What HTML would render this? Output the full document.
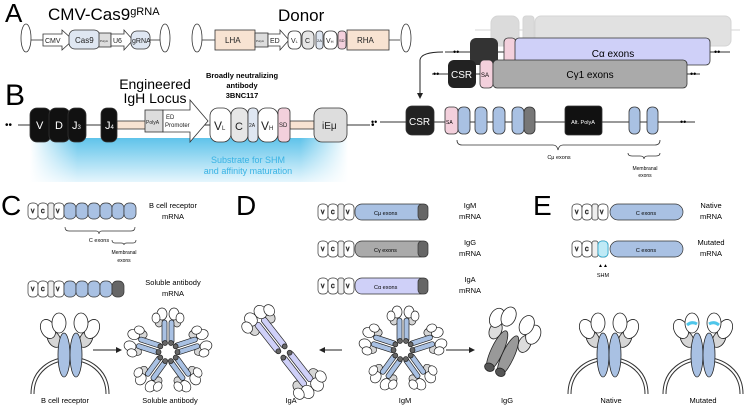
<!DOCTYPE html>
<html><head><meta charset="utf-8"><style>
html,body{margin:0;padding:0;background:#fff}
svg{display:block}
text{font-family:"Liberation Sans",sans-serif}
</style></head><body>
<svg width="750" height="406" viewBox="0 0 750 406" xmlns="http://www.w3.org/2000/svg">
<defs>
<linearGradient id="bg" x1="0" y1="0" x2="0" y2="1"><stop offset="0" stop-color="#5fc3ea"/><stop offset="1" stop-color="#e6f6fd"/></linearGradient>
<linearGradient id="bgx" x1="0" y1="0" x2="1" y2="0"><stop offset="0" stop-color="#fff" stop-opacity="1"/><stop offset="0.15" stop-color="#fff" stop-opacity="0"/><stop offset="0.85" stop-color="#fff" stop-opacity="0"/><stop offset="1" stop-color="#fff" stop-opacity="1"/></linearGradient>
<marker id="ah" markerWidth="6" markerHeight="6" refX="5" refY="3" orient="auto"><path d="M0,0 L6,3 L0,6 z" fill="#222"/></marker>
<g id="ab" stroke="#222" stroke-width="0.8">
 <ellipse cx="-16" cy="-16" rx="6" ry="9" fill="#d6d6d6" transform="rotate(-30 -16 -16)"/>
 <ellipse cx="16" cy="-16" rx="6" ry="9" fill="#d6d6d6" transform="rotate(30 16 -16)"/>
 <ellipse cx="-6" cy="0" rx="6" ry="22" fill="#a9c1e3"/>
 <ellipse cx="6" cy="0" rx="6" ry="22" fill="#a9c1e3"/>
 <ellipse cx="-22" cy="-26" rx="7" ry="10" fill="#fff" transform="rotate(-25 -22 -26)"/>
 <ellipse cx="-11" cy="-32" rx="7" ry="10" fill="#fff"/>
 <ellipse cx="22" cy="-26" rx="7" ry="10" fill="#fff" transform="rotate(25 22 -26)"/>
 <ellipse cx="11" cy="-32" rx="7" ry="10" fill="#fff"/>
</g>
<g id="arm" stroke="#222" stroke-width="0.7">
 <ellipse cx="-9" cy="-30" rx="4" ry="5" fill="#d6d6d6"/>
 <ellipse cx="9" cy="-30" rx="4" ry="5" fill="#d6d6d6"/>
 <rect x="-6" y="-32" width="5" height="24" rx="2.5" fill="#a9c1e3"/>
 <rect x="1" y="-32" width="5" height="24" rx="2.5" fill="#a9c1e3"/>
 <ellipse cx="-6" cy="-38" rx="5" ry="6" fill="#fff"/>
 <ellipse cx="6" cy="-38" rx="5" ry="6" fill="#fff"/>
 <ellipse cx="-12" cy="-34" rx="4" ry="5" fill="#fff"/>
 <ellipse cx="12" cy="-34" rx="4" ry="5" fill="#fff"/>
 <circle cx="-3" cy="-9" r="2.5" fill="#666"/><circle cx="3" cy="-9" r="2.5" fill="#666"/>
</g>
<g id="aarm" stroke="#222" stroke-width="0.7">
 <ellipse cx="-10" cy="-36" rx="5" ry="6" fill="#d6d6d6"/>
 <ellipse cx="10" cy="-36" rx="5" ry="6" fill="#d6d6d6"/>
 <rect x="-7" y="-40" width="6" height="37" rx="3" fill="#cfd0f8"/>
 <rect x="1" y="-40" width="6" height="37" rx="3" fill="#cfd0f8"/>
 <ellipse cx="-6" cy="-46" rx="6" ry="7" fill="#fff"/>
 <ellipse cx="6" cy="-46" rx="6" ry="7" fill="#fff"/>
 <ellipse cx="-14" cy="-42" rx="5" ry="6" fill="#fff"/>
 <ellipse cx="14" cy="-42" rx="5" ry="6" fill="#fff"/>
 <circle cx="-4" cy="-4" r="2.5" fill="#666"/><circle cx="4" cy="-4" r="2.5" fill="#666"/>
</g>
<g id="pent"><use href="#arm"/><use href="#arm" transform="rotate(72)"/><use href="#arm" transform="rotate(144)"/><use href="#arm" transform="rotate(216)"/><use href="#arm" transform="rotate(288)"/></g>
<g id="vbox" stroke="#333" stroke-width="0.7" font-size="5">
 <rect x="0" y="0" width="10" height="16" rx="4" fill="#fff"/><text x="3" y="10">V</text>
 <rect x="10" y="0" width="10" height="16" rx="4" fill="#fff"/><text x="13" y="10">C</text>
 <rect x="20" y="0" width="6" height="16" rx="2" fill="#eee"/>
 <rect x="26" y="0" width="10" height="16" rx="4" fill="#fff"/><text x="28" y="10">V</text>
</g>
</defs>

<!-- Panel A -->
<text x="5" y="22" font-size="26">A</text>
<text x="48" y="20" font-size="17">CMV-Cas9<tspan font-size="11" dy="-5">gRNA</tspan></text>
<text x="278" y="21" font-size="17">Donor</text>
<g stroke="#333" stroke-width="0.8">
<line x1="30" y1="40" x2="43" y2="40"/><ellipse cx="26" cy="38" rx="5" ry="14" fill="#fff"/>
<path d="M43,34 H62 V30 L73,40 L62,50 V46 H43 Z" fill="#fff"/>
<rect x="69" y="30" width="31" height="19" rx="6" fill="#dfe7f2"/>
<rect x="99" y="33" width="12" height="14" fill="#ddd"/>
<path d="M111,34 H124 V30 L133,40 L124,50 V46 H111 Z" fill="#fff"/>
<rect x="131" y="31" width="19" height="18" rx="6" fill="#dfe7f2"/>
<line x1="150" y1="40" x2="160" y2="40"/><ellipse cx="165" cy="38" rx="5" ry="14" fill="#fff"/>
<ellipse cx="197" cy="38" rx="5" ry="14" fill="#fff"/><line x1="202" y1="40" x2="215" y2="40"/>
<rect x="215" y="30" width="40" height="20" fill="#f8e3d2"/>
<rect x="255" y="33" width="13" height="14" fill="#ddd"/>
<path d="M268,34 H280 V30 L289,40 L280,50 V46 H268 Z" fill="#fff"/>
<rect x="288" y="31" width="13" height="18" rx="5" fill="#fff"/>
<rect x="302" y="31" width="12" height="18" rx="5" fill="#e6e6e6"/>
<rect x="316" y="31" width="7" height="18" rx="3" fill="#dfe7f2"/>
<rect x="324" y="31" width="13" height="18" rx="5" fill="#fff"/>
<rect x="338" y="31" width="8" height="18" rx="3" fill="#f3d0dc"/>
<rect x="347" y="30" width="42" height="20" fill="#f8e3d2"/>
<line x1="389" y1="40" x2="400" y2="40"/><ellipse cx="406" cy="38" rx="5" ry="14" fill="#fff"/>
</g>
<g font-size="7" fill="#222">
<text x="45" y="43">CMV</text><text x="75" y="43" font-size="8">Cas9</text><text x="100" y="42" font-size="3">PolyA</text><text x="113" y="43">U6</text><text x="132" y="43">gRNA</text>
<text x="225" y="43" font-size="8">LHA</text><text x="256" y="42" font-size="3">PolyA</text><text x="270" y="43">ED</text><text x="291" y="43">V<tspan font-size="4">L</tspan></text><text x="305" y="43">C</text><text x="317" y="42" font-size="4">2A</text><text x="326" y="43">V<tspan font-size="4">H</tspan></text><text x="339" y="42" font-size="4">SD</text><text x="357" y="43" font-size="8">RHA</text>
</g>

<!-- Panel B -->
<text x="5" y="105" font-size="30">B</text>
<rect x="30" y="138" width="318" height="44" fill="url(#bg)"/>
<rect x="30" y="138" width="318" height="44" fill="url(#bgx)"/>
<text x="248" y="163" font-size="9" fill="#39b3e4" text-anchor="middle">Substrate for SHM</text>
<text x="248" y="174" font-size="9" fill="#39b3e4" text-anchor="middle">and affinity maturation</text>
<text x="155" y="89" font-size="14" text-anchor="middle">Engineered</text>
<text x="155" y="103" font-size="14" text-anchor="middle">IgH Locus</text>
<text x="242" y="78" font-size="7.5" font-weight="bold" text-anchor="middle">Broadly neutralizing</text>
<text x="242" y="88" font-size="7.5" font-weight="bold" text-anchor="middle">antibody</text>
<text x="242" y="98" font-size="7.5" font-weight="bold" text-anchor="middle">3BNC117</text>
<text x="5" y="128" font-size="10">••</text>
<line x1="18" y1="125" x2="370" y2="125" stroke="#333"/>
<text x="371" y="128" font-size="10">•</text>
<g stroke="#333" stroke-width="0.8">
<rect x="117" y="121" width="30" height="8" fill="#f8e3d2"/>
<rect x="290" y="121" width="24" height="8" fill="#f8e3d2"/>
<rect x="30" y="108" width="21" height="34" rx="7" fill="#111"/>
<rect x="49" y="108" width="21" height="34" rx="7" fill="#111"/>
<rect x="68" y="108" width="18" height="34" rx="7" fill="#111"/>
<rect x="101" y="108" width="16" height="34" rx="6" fill="#111"/>
<rect x="145" y="110" width="18" height="22" fill="#ddd"/>
<path d="M163,110 H190 V100 L208,121 L190,142 V132 H163 Z" fill="#fff"/>
<rect x="210" y="108" width="21" height="34" rx="8" fill="#fff"/>
<rect x="231" y="108" width="17" height="34" rx="7" fill="#e6e6e6"/>
<rect x="248" y="108" width="10" height="34" rx="4" fill="#dfe7f2"/>
<rect x="258" y="108" width="20" height="34" rx="8" fill="#fff"/>
<rect x="278" y="108" width="12" height="34" rx="4" fill="#f3d0dc"/>
<rect x="314" y="108" width="33" height="34" rx="8" fill="#ddd"/>
</g>
<g font-size="11" fill="#fff"><text x="36" y="129">V</text><text x="55" y="129">D</text><text x="72" y="129">J<tspan font-size="6">3</tspan></text><text x="105" y="129">J<tspan font-size="6">4</tspan></text></g>
<g fill="#222"><text x="146" y="124" font-size="5">PolyA</text><text x="166" y="119" font-size="6">ED</text><text x="165" y="127" font-size="6">Promoter</text>
<text x="214" y="130" font-size="12">V<tspan font-size="6">L</tspan></text><text x="235" y="130" font-size="11">C</text><text x="249" y="127" font-size="5">2A</text><text x="261" y="130" font-size="12">V<tspan font-size="6">H</tspan></text><text x="279" y="127" font-size="6">SD</text><text x="322" y="129" font-size="10">iEμ</text></g>

<!-- B right -->
<g opacity="0.35" stroke="#888"><line x1="475" y1="30" x2="740" y2="30"/><rect x="491" y="16" width="28" height="30" rx="7" fill="#999"/><rect x="523" y="16" width="11" height="30" rx="3" fill="#999"/><rect x="535" y="16" width="196" height="30" rx="6" fill="#aaa"/></g>
<line x1="445" y1="52" x2="730" y2="52" stroke="#333"/>
<text x="453" y="55" font-size="9">••</text><text x="714" y="55" font-size="9">••</text>
<rect x="470" y="38" width="28" height="27" rx="6" fill="#333"/>
<rect x="504" y="38" width="12" height="27" rx="4" fill="#f3d0dc" stroke="#333" stroke-width="0.8"/>
<rect x="515" y="38" width="195" height="27" rx="4" fill="#cfd0f8" stroke="#333" stroke-width="0.8"/>
<text x="613" y="57" font-size="10" text-anchor="middle">Cα exons</text>
<line x1="432" y1="74" x2="700" y2="74" stroke="#333"/>
<text x="433" y="77" font-size="9">••</text><text x="690" y="77" font-size="9">••</text>
<rect x="448" y="60" width="28" height="28" rx="6" fill="#222"/>
<text x="451" y="78" font-size="10" fill="#fff">CSR</text>
<rect x="480" y="60" width="13" height="28" rx="4" fill="#f3d0dc" stroke="#333" stroke-width="0.8"/>
<text x="481" y="77" font-size="6">SA</text>
<rect x="493" y="60" width="194" height="28" rx="4" fill="#aaa" stroke="#333" stroke-width="0.8"/>
<text x="590" y="78" font-size="10" text-anchor="middle">Cγ1 exons</text>
<path d="M443,52 Q421,52 420,60 L420,98" fill="none" stroke="#222" marker-end="url(#ah)"/>
<line x1="380" y1="122" x2="695" y2="122" stroke="#333"/>
<text x="371" y="125" font-size="9">••</text><text x="680" y="125" font-size="9">••</text>
<g stroke="#333" stroke-width="0.8">
<rect x="406" y="106" width="28" height="29" rx="6" fill="#222"/>
<rect x="445" y="107" width="13" height="27" rx="4" fill="#f3d0dc"/>
<rect x="458" y="107" width="12" height="27" rx="5" fill="#a9c1e3"/>
<rect x="475" y="107" width="12" height="27" rx="5" fill="#a9c1e3"/>
<rect x="493" y="107" width="12" height="27" rx="5" fill="#a9c1e3"/>
<rect x="512" y="107" width="12" height="27" rx="5" fill="#a9c1e3"/>
<rect x="524" y="107" width="11" height="27" rx="5" fill="#777"/>
<rect x="565" y="106" width="37" height="29" rx="3" fill="#111"/>
<rect x="629" y="107" width="11" height="27" rx="5" fill="#a9c1e3"/>
<rect x="647" y="107" width="11" height="27" rx="5" fill="#a9c1e3"/>
</g>
<text x="409" y="125" font-size="10" fill="#fff">CSR</text>
<text x="446" y="124" font-size="5">SA</text>
<text x="583" y="124" font-size="5.5" fill="#fff" text-anchor="middle">Alt. PolyA</text>
<path d="M457,140 Q457,145 462,145 L553,145 Q557,145 558,150 Q559,145 563,145 L655,145 Q660,145 660,140" fill="none" stroke="#333" stroke-width="0.8"/>
<text x="559" y="159" font-size="5.5" text-anchor="middle">Cμ exons</text>
<path d="M628,153 Q628,156 632,156 L640,156 Q644,156 644,159 Q644,156 648,156 L656,156 Q660,156 660,153" fill="none" stroke="#333" stroke-width="0.8"/>
<text x="645" y="170" font-size="5" text-anchor="middle">Membranal</text>
<text x="645" y="177" font-size="5" text-anchor="middle">exons</text>

<!-- Panel C -->
<text x="1" y="215" font-size="28">C</text>
<use href="#vbox" x="28" y="203"/>
<g fill="#a9c1e3" stroke="#333" stroke-width="0.7">
<rect x="64" y="203" width="12" height="16" rx="5"/><rect x="76" y="203" width="12" height="16" rx="5"/><rect x="88" y="203" width="12" height="16" rx="5"/><rect x="100" y="203" width="12" height="16" rx="5"/><rect x="112" y="203" width="12" height="16" rx="5"/><rect x="124" y="203" width="12" height="16" rx="5"/>
</g>
<text x="173" y="208" font-size="7.5" text-anchor="middle">B cell receptor</text>
<text x="173" y="219" font-size="7.5" text-anchor="middle">mRNA</text>
<path d="M65,227 Q65,231 69,231 L96,231 Q99,231 99,234 Q99,231 102,231 L131,231 Q135,231 135,227" fill="none" stroke="#333" stroke-width="0.7"/>
<text x="99" y="242" font-size="5.5" text-anchor="middle">C exons</text>
<path d="M112,240 Q112,243 115,243 L121,243 Q124,243 124,245 Q124,243 127,243 L133,243 Q136,243 136,240" fill="none" stroke="#333" stroke-width="0.7"/>
<text x="124" y="254" font-size="5" text-anchor="middle">Membranal</text>
<text x="124" y="262" font-size="5" text-anchor="middle">exons</text>
<use href="#vbox" x="28" y="281"/>
<g fill="#a9c1e3" stroke="#333" stroke-width="0.7">
<rect x="64" y="281" width="12" height="16" rx="5"/><rect x="76" y="281" width="12" height="16" rx="5"/><rect x="88" y="281" width="12" height="16" rx="5"/><rect x="100" y="281" width="12" height="16" rx="5"/><rect x="112" y="281" width="12" height="16" rx="5" fill="#666"/>
</g>
<text x="173" y="285" font-size="7.5" text-anchor="middle">Soluble antibody</text>
<text x="173" y="296" font-size="7.5" text-anchor="middle">mRNA</text>
<path d="M31,394 C31,345 109,345 109,394 M34,394 C34,349 106,349 106,394" fill="none" stroke="#333"/>
<use href="#ab" x="70" y="355"/>
<line x1="93" y1="350" x2="121" y2="350" stroke="#222" marker-end="url(#ah)"/>
<use href="#pent" x="168" y="352"/>
<text x="65" y="403" font-size="7.5" text-anchor="middle">B cell receptor</text>
<text x="170" y="403" font-size="7.5" text-anchor="middle">Soluble antibody</text>

<!-- Panel D -->
<text x="236" y="215" font-size="28">D</text>
<use href="#vbox" x="318" y="204"/>
<rect x="355" y="204" width="72" height="16" rx="7" fill="#a9c1e3" stroke="#333" stroke-width="0.7"/><rect x="418" y="204" width="10" height="16" rx="4" fill="#666" stroke="#333" stroke-width="0.7"/>
<text x="374" y="215" font-size="5.5">Cμ exons</text>
<use href="#vbox" x="318" y="241"/>
<rect x="355" y="241" width="72" height="16" rx="7" fill="#aaa" stroke="#333" stroke-width="0.7"/><rect x="418" y="241" width="10" height="16" rx="4" fill="#666" stroke="#333" stroke-width="0.7"/>
<text x="374" y="252" font-size="5.5">Cγ exons</text>
<use href="#vbox" x="318" y="278"/>
<rect x="355" y="278" width="72" height="16" rx="7" fill="#cfd0f8" stroke="#333" stroke-width="0.7"/><rect x="418" y="278" width="10" height="16" rx="4" fill="#666" stroke="#333" stroke-width="0.7"/>
<text x="374" y="289" font-size="5.5">Cα exons</text>
<g font-size="7.5" text-anchor="middle"><text x="470" y="208">IgM</text><text x="470" y="219">mRNA</text><text x="470" y="245">IgG</text><text x="470" y="256">mRNA</text><text x="470" y="282">IgA</text><text x="470" y="293">mRNA</text></g>
<g transform="translate(284,352) rotate(-38)">
 <use href="#aarm"/><use href="#aarm" transform="rotate(180)"/>
</g>
<line x1="342" y1="350" x2="320" y2="350" stroke="#222" marker-end="url(#ah)"/>
<use href="#pent" x="403" y="350"/>
<line x1="446" y1="350" x2="474" y2="350" stroke="#222" marker-end="url(#ah)"/>
<g transform="translate(505,348) rotate(25)" stroke="#222" stroke-width="0.8">
 <ellipse cx="-16" cy="-12" rx="6" ry="9" fill="#ddd"/><ellipse cx="16" cy="-12" rx="6" ry="9" fill="#ddd"/>
 <ellipse cx="-6" cy="6" rx="6" ry="22" fill="#999"/><ellipse cx="6" cy="6" rx="6" ry="22" fill="#999"/>
 <ellipse cx="-6" cy="24" rx="5" ry="4" fill="#555"/><ellipse cx="6" cy="24" rx="5" ry="4" fill="#555"/>
 <ellipse cx="-20" cy="-24" rx="7" ry="10" fill="#fff"/><ellipse cx="-10" cy="-30" rx="7" ry="10" fill="#fff"/>
 <ellipse cx="20" cy="-24" rx="7" ry="10" fill="#fff"/><ellipse cx="10" cy="-30" rx="7" ry="10" fill="#fff"/>
</g>
<g font-size="7.5" text-anchor="middle"><text x="291" y="403">IgA</text><text x="405" y="403">IgM</text><text x="507" y="403">IgG</text></g>

<!-- Panel E -->
<text x="533" y="215" font-size="28">E</text>
<use href="#vbox" x="572" y="204"/>
<rect x="610" y="204" width="73" height="16" rx="8" fill="#a9c1e3" stroke="#333" stroke-width="0.7"/>
<text x="646" y="215" font-size="5.5" text-anchor="middle">C exons</text>
<use href="#vbox" x="572" y="241"/>
<rect x="598" y="241" width="10" height="16" rx="4" fill="#bfeaf6" stroke="#2aa7cc" stroke-width="0.8"/>
<rect x="610" y="241" width="73" height="16" rx="8" fill="#a9c1e3" stroke="#333" stroke-width="0.7"/>
<text x="646" y="252" font-size="5.5" text-anchor="middle">C exons</text>
<text x="603" y="267" font-size="5" text-anchor="middle">▲▲</text>
<text x="603" y="277" font-size="5.5" text-anchor="middle">SHM</text>
<g font-size="7.5" text-anchor="middle"><text x="711" y="208">Native</text><text x="711" y="219">mRNA</text><text x="711" y="245">Mutated</text><text x="711" y="256">mRNA</text></g>
<path d="M568,394 C568,345 648,345 648,394 M571,394 C571,349 645,349 645,394" fill="none" stroke="#333"/>
<use href="#ab" x="609" y="355"/>
<path d="M663,394 C663,345 743,345 743,394 M666,394 C666,349 740,349 740,394" fill="none" stroke="#333"/>
<use href="#ab" x="703" y="355"/>
<path d="M687,325 Q692,321 697,324" stroke="#4fc6ea" stroke-width="3" fill="none"/>
<path d="M709,324 Q714,321 719,325" stroke="#4fc6ea" stroke-width="3" fill="none"/>
<g font-size="7.5" text-anchor="middle"><text x="611" y="403">Native</text><text x="703" y="403">Mutated</text></g>
</svg>
</body></html>
